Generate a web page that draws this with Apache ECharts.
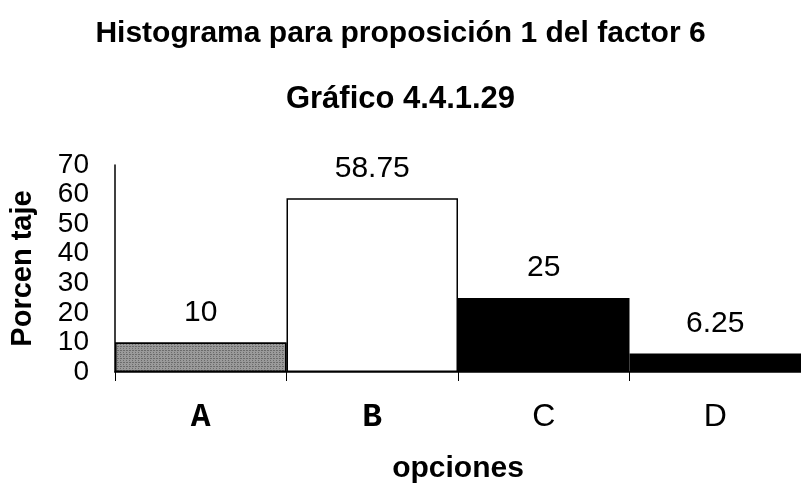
<!DOCTYPE html>
<html>
<head>
<meta charset="utf-8">
<script src="https://cdn.jsdelivr.net/npm/echarts@6/dist/echarts.min.js"></script>
<style>
  html, body { margin: 0; padding: 0; background: #fff; }
  #chart { width: 801px; height: 487px; }
</style>
</head>
<body>
<div id="chart"></div>
<script>
// Answer options and the percentage for each
const categories = ['A', 'B', 'C', 'D'];
const percentages = [10, 58.75, 25, 6.25];
const yTicks = [0, 10, 20, 30, 40, 50, 60, 70];

// Fill per bar: dotted grey, white, black, black
const barFills = ['#707070', '#ffffff', '#000000', '#000000'];
const monoLabels = ['A', 'B'];

const chart = echarts.init(document.getElementById('chart'));

const sans = 'Liberation Sans, Arial, sans-serif';

// Stippled texture for the first bar
const stipple = {
  symbol: 'rect',
  symbolSize: 0.7,
  color: 'rgba(0,0,0,0.85)',
  backgroundColor: '#9a9a9a',
  dashArrayX: [[2, 1], [1, 2]],
  dashArrayY: [1, 1],
  rotation: 0
};

chart.setOption({
  animation: false,
  backgroundColor: '#ffffff',
  title: [
    {
      text: 'Histograma para proposición 1 del factor 6',
      left: 'center',
      top: 14,
      textStyle: { fontFamily: sans, fontSize: 30, fontWeight: 'bold', color: '#000' }
    },
    {
      text: 'Gráfico 4.4.1.29',
      left: 'center',
      top: 79,
      textStyle: { fontFamily: sans, fontSize: 31, fontWeight: 'bold', color: '#000' }
    }
  ],
  grid: { left: 111, width: 697, top: 165, height: 207, containLabel: false },
  xAxis: {
    type: 'category',
    data: categories,
    name: 'opciones',
    nameLocation: 'middle',
    nameGap: 82,
    nameTextStyle: { fontFamily: sans, fontSize: 30, fontWeight: 'bold', color: '#000' },
    axisLine: { show: true, lineStyle: { color: '#000', width: 1.5 } },
    axisTick: { show: true, interval: 0, length: 9, lineStyle: { color: '#000', width: 1 } },
    axisLabel: {
      margin: 29,
      formatter: v => monoLabels.includes(v) ? '{m|' + v + '}' : '{s|' + v + '}',
      rich: {
        m: { fontFamily: 'Liberation Mono, Courier New, monospace', fontWeight: 'bold', fontSize: 33, color: '#000' },
        s: { fontFamily: sans, fontSize: 32, color: '#000' }
      }
    }
  },
  yAxis: {
    type: 'value',
    min: yTicks[0],
    max: yTicks[yTicks.length - 1],
    interval: 10,
    name: 'Porcen taje',
    nameLocation: 'middle',
    nameRotate: 90,
    nameGap: 78,
    nameTextStyle: { fontFamily: sans, fontSize: 29, fontWeight: 'bold', color: '#000' },
    axisLine: { show: true, lineStyle: { color: '#000', width: 1.5 } },
    axisTick: { show: false },
    splitLine: { show: false },
    axisLabel: {
      margin: 26,
      fontFamily: sans,
      fontSize: 28,
      color: '#000',
      showMinLabel: true,
      showMaxLabel: true,
      hideOverlap: false
    }
  },
  series: [{
    type: 'bar',
    barWidth: '100%',
    barCategoryGap: 0,
    data: percentages.map((v, i) => {
      const style = { color: barFills[i], borderColor: '#000', borderWidth: 1.5 };
      if (i === 0) style.decal = stipple;
      return { value: v, itemStyle: style };
    }),
    label: {
      show: true,
      position: 'top',
      distance: 15,
      fontFamily: sans,
      fontSize: 30,
      color: '#000'
    }
  }]
});
</script>
</body>
</html>
